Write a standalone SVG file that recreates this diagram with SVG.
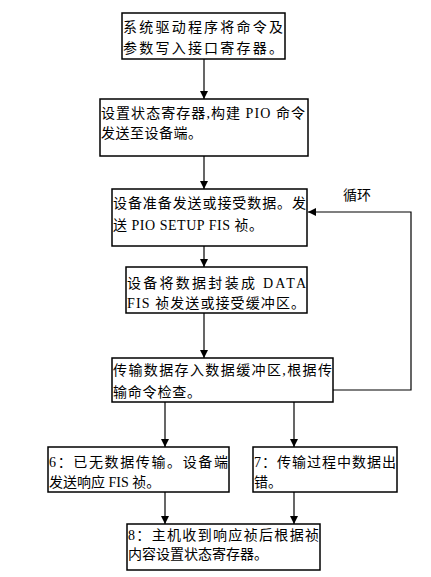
<svg xmlns="http://www.w3.org/2000/svg" width="431" height="577" viewBox="0 0 431 577">
<defs>
<marker id="ah" viewBox="0 0 10 10" refX="10" refY="5" markerWidth="8" markerHeight="8" markerUnits="userSpaceOnUse" orient="auto">
<path d="M0,0 L10,5 L0,10 z" fill="#000"/>
</marker>
<style>
.box{fill:#fff;stroke:#000;stroke-width:1.5}
.t{font-family:"Liberation Serif","Noto Sans CJK SC",serif;font-size:14px;fill:#000}
.c{fill:none;stroke:#000;stroke-width:1.2}
</style>
</defs>
<rect width="431" height="577" fill="#fff"/>
<g id="connectors">
<line class="c" x1="204" y1="59" x2="204" y2="99" marker-end="url(#ah)"/>
<line class="c" x1="204" y1="156" x2="204" y2="189" marker-end="url(#ah)"/>
<line class="c" x1="204" y1="246" x2="204" y2="267" marker-end="url(#ah)"/>
<line class="c" x1="204" y1="313" x2="204" y2="358" marker-end="url(#ah)"/>
<polyline class="c" points="333,390 411,390 411,212 308,212" marker-end="url(#ah)"/>
<line class="c" x1="165" y1="402" x2="165" y2="447" marker-end="url(#ah)"/>
<line class="c" x1="294" y1="402" x2="294" y2="447" marker-end="url(#ah)"/>
<line class="c" x1="165" y1="492" x2="165" y2="524" marker-end="url(#ah)"/>
<line class="c" x1="294" y1="492" x2="294" y2="524" marker-end="url(#ah)"/>
<text class="t" x="343" y="200">循环</text>
</g>
<g id="n1">
<rect class="box" x="122" y="13" width="163" height="46"/>
<text class="t" x="123" y="32" textLength="160" lengthAdjust="spacing">系统驱动程序将命令及</text>
<text class="t" x="123" y="53" textLength="160" lengthAdjust="spacing">参数写入接口寄存器。</text>
</g>
<g id="n2">
<rect class="box" x="100" y="99" width="208" height="57"/>
<text class="t" x="101" y="118" textLength="204" lengthAdjust="spacing">设置状态寄存器,构建 PIO 命令</text>
<text class="t" x="101" y="138" textLength="101" lengthAdjust="spacing">发送至设备端。</text>
</g>
<g id="n3">
<rect class="box" x="112" y="189" width="195" height="57"/>
<text class="t" x="113" y="208" textLength="193" lengthAdjust="spacing">设备准备发送或接受数据。发</text>
<text class="t" x="113" y="230" textLength="150" lengthAdjust="spacing">送 PIO SETUP FIS 祯。</text>
</g>
<g id="n4">
<rect class="box" x="126" y="267" width="181" height="46"/>
<text class="t" x="127" y="288" textLength="179" lengthAdjust="spacing">设备将数据封装成  DATA</text>
<text class="t" x="127" y="308" textLength="178" lengthAdjust="spacing">FIS 祯发送或接受缓冲区。</text>
</g>
<g id="n5">
<rect class="box" x="112" y="358" width="221" height="44"/>
<text class="t" x="113" y="375" textLength="219" lengthAdjust="spacing">传输数据存入数据缓冲区,根据传</text>
<text class="t" x="113" y="397" textLength="88" lengthAdjust="spacing">输命令检查。</text>
</g>
<g id="n6">
<rect class="box" x="48" y="447" width="181" height="45"/>
<text class="t" x="49" y="467" textLength="179" lengthAdjust="spacing">6：已无数据传输。设备端</text>
<text class="t" x="49" y="487">发送响应 FIS 祯。</text>
</g>
<g id="n7">
<rect class="box" x="253" y="447" width="144" height="45"/>
<text class="t" x="254" y="467" textLength="142" lengthAdjust="spacing">7：传输过程中数据出</text>
<text class="t" x="254" y="487">错。</text>
</g>
<g id="n8">
<rect class="box" x="127" y="524" width="193" height="46"/>
<text class="t" x="128" y="540" textLength="191" lengthAdjust="spacing">8：主机收到响应祯后根据祯</text>
<text class="t" x="128" y="559" textLength="140" lengthAdjust="spacing">内容设置状态寄存器。</text>
</g>
</svg>
